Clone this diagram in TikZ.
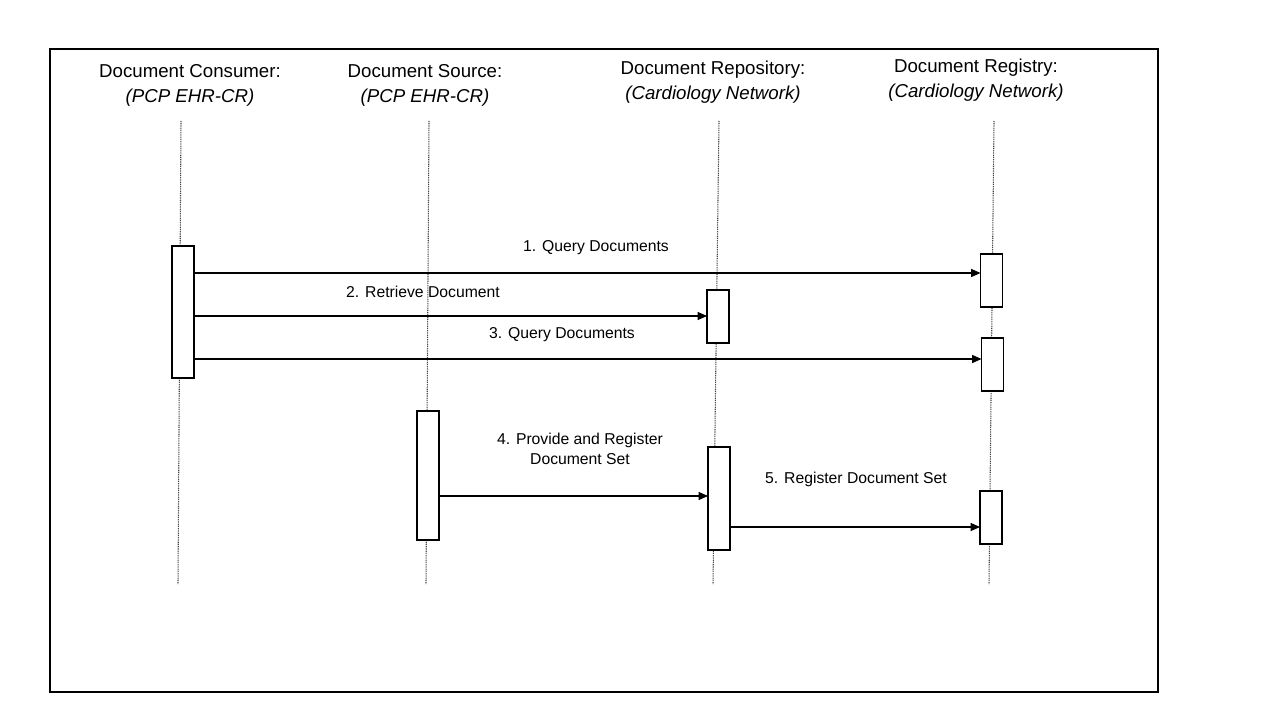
\documentclass[tikz,border=0pt]{standalone}
\usepackage{fontspec}
\setmainfont{Liberation Sans}
\usetikzlibrary{arrows.meta}
\begin{document}
\begin{tikzpicture}[x=0.75pt,y=-0.75pt,
  actbox/.style={draw=black,fill=white,line width=0.9pt,inner sep=0pt,outer sep=0pt,minimum width=16.5pt},
  life/.style={draw=gray!55!black,line width=0.8pt,dash pattern=on 0.75pt off 0.6pt},
  msg/.style={draw=black,line width=0.8pt,-{Triangle[length=7pt,width=6pt]}},
  hdr/.style={font=\fontsize{14}{18.5}\selectfont,align=center,inner sep=0pt},
  lbl/.style={font=\fontsize{11.8}{14.5}\selectfont,align=center,inner sep=0pt}]
\useasboundingbox (0,0) rectangle (1280,720);
\draw[line width=0.8pt] (50,49) rectangle (1158,692);
% headers
\node[hdr] (hc) at (190,85.5) {Document Consumer:\\\textit{(PCP EHR-CR)}};
\node[hdr] (hs) at (425,85.5) {Document Source:\\\textit{(PCP EHR-CR)}};
\node[hdr] (hp) at (713,82.5) {Document Repository:\\\textit{(Cardiology Network)}};
\node[hdr] (hg) at (976,80.5) {Document Registry:\\\textit{(Cardiology Network)}};
% lifelines
\coordinate (lc1) at (181,121); \coordinate (lc2) at (178,584);
\coordinate (ls1) at (429,121); \coordinate (ls2) at (426,584);
\coordinate (lp1) at (719,121); \coordinate (lp2) at (713,584);
\coordinate (lg1) at (994,121); \coordinate (lg2) at (989,584);
\draw[life] (lc1) -- (lc2);
\draw[life] (ls1) -- (ls2);
\draw[life] (lp1) -- (lp2);
\draw[life] (lg1) -- (lg2);
% activation boxes
\node[actbox,minimum height=99pt] (c1) at (183,312) {};
\node[actbox,minimum height=96.75pt] (s1) at (428,475.5) {};
\node[actbox,minimum height=39.75pt] (p1) at (718,316.5) {};
\node[actbox,minimum height=77.25pt] (p2) at (719,498.5) {};
\node[actbox,minimum height=39.75pt] (g1) at (991.5,280.5) {};
\node[actbox,minimum height=39.75pt] (g2) at (992.5,364.5) {};
\node[actbox,minimum height=39.75pt] (g3) at (991,517.5) {};
% messages
\draw[msg] (c1.east |- 0,273) -- (g1.west |- 0,273);
\node[lbl] (m1) at (596,248) {1. Query Documents};
\draw[msg] (c1.east |- 0,316) -- (p1.west |- 0,316);
\node[lbl] (m2) at (423,292) {2. Retrieve Document};
\draw[msg] (c1.east |- 0,359) -- (g2.west |- 0,359);
\node[lbl] (m3) at (562,335) {3. Query Documents};
\draw[msg] (s1.east |- 0,496) -- (p2.west |- 0,496);
\node[lbl] (m4) at (580,449) {4. Provide and Register\\Document Set};
\draw[msg] (p2.east |- 0,527) -- (g3.west |- 0,527);
\node[lbl] (m5) at (856,479) {5. Register Document Set};
\end{tikzpicture}
\end{document}
